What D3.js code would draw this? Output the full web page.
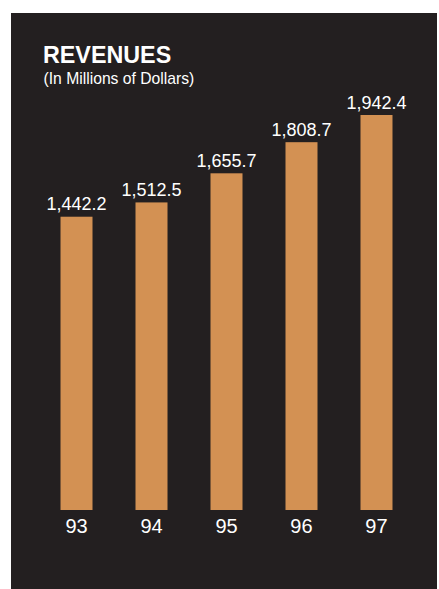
<!DOCTYPE html>
<html><head><meta charset="utf-8">
<script src="https://cdn.jsdelivr.net/npm/d3@7"></script>
<style>html,body{margin:0;padding:0;background:#fff;}svg{display:block;}</style>
</head><body>
<script>
const years = ["93","94","95","96","97"];
const revenues = [1442.2, 1512.5, 1655.7, 1808.7, 1942.4];
const valueLabels = ["1,442.2","1,512.5","1,655.7","1,808.7","1,942.4"];

const W = 439, H = 589;
const svg = d3.select("body").append("svg").attr("width", W).attr("height", H);
svg.append("rect").attr("x", 11).attr("y", 13).attr("width", 426).attr("height", H - 13).attr("fill", "#231f20");

const font = "Liberation Sans, Arial, sans-serif";
svg.append("text").attr("x", 43).attr("y", 63.3).attr("fill", "#fff")
  .attr("font-family", font).attr("font-weight", "bold").attr("font-size", 23.3).text("REVENUES");
svg.append("text").attr("x", 43.5).attr("y", 84).attr("fill", "#fff")
  .attr("font-family", font).attr("font-size", 15.7).text("(In Millions of Dollars)");

const x = d3.scaleBand().domain(years).range([39, 414]).paddingInner(0.5733).paddingOuter(0.2867);
const y = d3.scaleLinear().domain([0, 1942.4]).range([510, 115]);

svg.selectAll("rect.bar").data(revenues).join("rect").attr("class", "bar")
  .attr("x", (d, i) => x(years[i])).attr("width", x.bandwidth())
  .attr("y", d => y(d)).attr("height", d => y(0) - y(d)).attr("fill", "#d39153");

svg.selectAll("text.val").data(revenues).join("text").attr("class", "val")
  .attr("x", (d, i) => x(years[i]) + x.bandwidth() / 2).attr("y", d => y(d) - 6.5)
  .attr("text-anchor", "middle").attr("fill", "#fff").attr("font-family", font).attr("font-size", 18)
  .text((d, i) => valueLabels[i]);

const axis = d3.axisBottom(x).tickSize(0).tickPadding(0);
const g = svg.append("g").attr("transform", "translate(0,510)").call(axis);
g.select(".domain").remove();
g.selectAll("text").attr("fill", "#fff").attr("font-family", font).attr("font-size", 20)
  .attr("dy", null).attr("y", 23.3);
</script>
</body></html>
